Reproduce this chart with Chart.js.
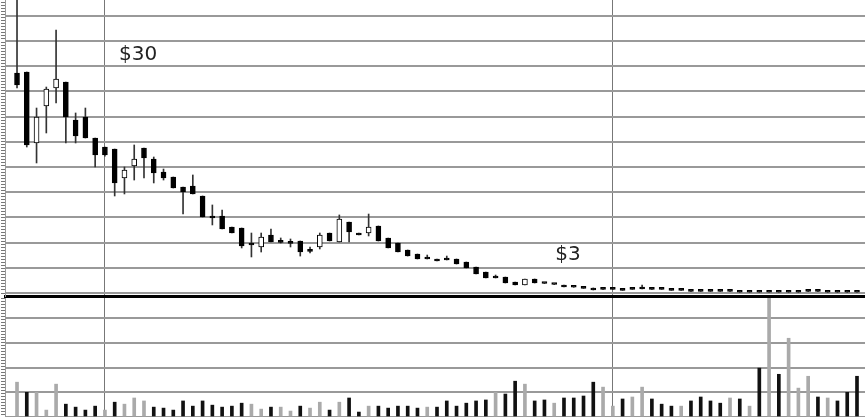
<!DOCTYPE html>
<html>
<head>
<meta charset="utf-8">
<script src="https://cdn.jsdelivr.net/npm/chart.js@4.4.1/dist/chart.umd.min.js"></script>
<style>
    html, body { margin: 0; padding: 0; background: #fff; overflow: hidden; }
    #price { position: absolute; left: 0; top: 0; width: 865px; height: 298px; }
    #volume { position: absolute; left: 0; top: 298px; width: 865px; height: 119px; }
</style>
</head>
<body>
<div id="price"><canvas id="priceChart"></canvas></div>
<div id="volume"><canvas id="volumeChart"></canvas></div>
<script>
// daily OHLC (dollars), one entry per session
const opens = [26.19, 26.31, 17.86, 22.26, 24.40, 25.12, 20.60, 20.95, 18.45, 17.38,
    17.14, 13.69, 15.12, 17.26, 15.95, 14.40, 13.81, 12.62, 12.74, 11.55,
    9.17, 9.17, 7.86, 7.74, 5.83, 5.48, 6.90, 6.10, 5.98, 6.19,
    5.02, 5.48, 7.14, 6.07, 8.45, 7.14, 7.14, 7.98, 6.55, 5.95,
    5.12, 4.64, 4.17, 4.05, 4.05, 4.05, 3.69, 3.10, 2.50, 2.02,
    1.90, 1.31, 0.95, 1.67, 1.19, 1.07, 0.95, 0.74, 0.62, 0.60,
    0.50, 0.50, 0.38, 0.50, 0.71, 0.50, 0.50, 0.38, 0.38, 0.26,
    0.26, 0.26, 0.26, 0.26, 0.15, 0.15, 0.15, 0.15, 0.15, 0.15,
    0.15, 0.26, 0.26, 0.15, 0.15, 0.15, 0.15];
const highs = [36.00, 26.31, 22.02, 24.52, 31.31, 25.12, 21.43, 22.02, 18.45, 17.38,
    17.14, 15.00, 17.62, 17.26, 16.19, 14.76, 13.81, 12.62, 14.05, 11.55,
    10.48, 9.88, 7.86, 7.74, 7.14, 7.14, 7.62, 6.55, 6.43, 6.19,
    5.48, 7.14, 7.14, 9.29, 8.45, 7.14, 9.40, 7.98, 6.55, 5.95,
    5.12, 4.64, 4.52, 4.05, 4.40, 4.05, 3.69, 3.10, 2.50, 2.14,
    1.90, 1.31, 1.67, 1.67, 1.19, 1.07, 0.95, 0.74, 0.62, 0.60,
    0.50, 0.50, 0.38, 0.50, 0.95, 0.50, 0.50, 0.38, 0.38, 0.26,
    0.26, 0.26, 0.26, 0.26, 0.15, 0.15, 0.15, 0.15, 0.15, 0.15,
    0.15, 0.26, 0.26, 0.15, 0.15, 0.15, 0.15];
const lows = [24.40, 17.38, 15.48, 19.05, 22.62, 17.86, 17.86, 18.45, 15.00, 16.30,
    11.55, 11.79, 13.45, 13.69, 13.10, 13.45, 12.50, 9.40, 11.79, 9.05,
    8.10, 7.62, 7.14, 5.36, 4.29, 4.88, 6.07, 5.95, 5.48, 4.40,
    4.76, 5.24, 6.19, 6.07, 6.07, 6.90, 6.79, 6.19, 5.36, 4.88,
    4.40, 4.05, 4.05, 3.81, 3.93, 3.45, 2.98, 2.26, 1.79, 1.79,
    1.19, 0.95, 0.95, 1.19, 1.13, 1.01, 0.71, 0.68, 0.56, 0.36,
    0.44, 0.44, 0.32, 0.44, 0.48, 0.44, 0.44, 0.32, 0.32, 0.20,
    0.20, 0.20, 0.20, 0.20, 0.09, 0.09, 0.09, 0.09, 0.09, 0.09,
    0.09, 0.20, 0.20, 0.09, 0.09, 0.09, 0.09];
const closes = [24.76, 17.62, 20.95, 24.29, 25.48, 20.95, 18.69, 18.45, 16.43, 16.43,
    13.10, 14.64, 15.95, 16.07, 14.29, 13.69, 12.50, 12.02, 11.79, 9.05,
    8.93, 7.62, 7.14, 5.60, 5.71, 6.67, 6.07, 6.02, 5.90, 4.88,
    4.95, 6.90, 6.19, 8.81, 7.26, 6.90, 7.86, 6.19, 5.36, 4.88,
    4.40, 4.05, 4.05, 3.81, 3.93, 3.45, 2.98, 2.26, 1.79, 1.79,
    1.19, 0.95, 1.67, 1.19, 1.13, 1.01, 0.71, 0.68, 0.56, 0.36,
    0.44, 0.44, 0.32, 0.44, 0.48, 0.44, 0.44, 0.32, 0.32, 0.20,
    0.20, 0.20, 0.20, 0.20, 0.09, 0.09, 0.09, 0.09, 0.09, 0.09,
    0.09, 0.20, 0.20, 0.09, 0.09, 0.09, 0.09];

// volume (millions of shares) and whether the bar is an up day (grey)
const volumes = [1.41, 1.00, 1.00, 0.28, 1.33, 0.52, 0.40, 0.28, 0.44, 0.28,
    0.60, 0.52, 0.77, 0.65, 0.40, 0.36, 0.28, 0.65, 0.44, 0.65,
    0.48, 0.40, 0.44, 0.56, 0.52, 0.32, 0.40, 0.40, 0.24, 0.44,
    0.36, 0.60, 0.28, 0.60, 0.77, 0.20, 0.44, 0.44, 0.36, 0.44,
    0.44, 0.36, 0.40, 0.40, 0.65, 0.44, 0.56, 0.65, 0.69, 1.00,
    0.93, 1.45, 1.33, 0.65, 0.69, 0.56, 0.77, 0.77, 0.85, 1.41,
    1.21, 0.44, 0.73, 0.81, 1.21, 0.73, 0.52, 0.44, 0.44, 0.65,
    0.81, 0.65, 0.56, 0.77, 0.73, 0.44, 1.98, 5.60, 1.73, 3.19,
    1.17, 1.65, 0.81, 0.77, 0.65, 1.00, 1.65];
const volumeUp = [1, 0, 1, 1, 1, 0, 0, 0, 0, 1,
    0, 1, 1, 1, 0, 0, 0, 0, 0, 0,
    0, 0, 0, 0, 1, 1, 0, 1, 1, 0,
    1, 1, 0, 1, 0, 0, 1, 0, 0, 0,
    0, 0, 1, 0, 0, 0, 0, 0, 0, 1,
    0, 0, 1, 0, 0, 1, 0, 0, 0, 0,
    1, 1, 0, 1, 1, 0, 0, 0, 1, 0,
    0, 0, 0, 1, 0, 1, 0, 1, 0, 1,
    1, 1, 0, 1, 0, 0, 0];

// month separators (session index) and price notes
const dividers = [9, 61];
const noteTexts = ['$30', '$3'];
const noteIndex = [10.45, 55.1];
const notePrice = [28.3, 4.5];

const idx = opens.map((_, i) => i);

function xAxis(withBorder) {
    return {
        type: 'linear',
        offset: false,
        min: -1.23,
        max: 86.82,
        afterBuildTicks: function(scale) {
            scale.ticks = dividers.map(v => ({ value: v }));
        },
        ticks: { display: false },
        grid: { offset: false, color: '#777', lineWidth: 1, drawTicks: false },
        border: withBorder ? { display: true, width: 3, color: '#000' } : { display: false }
    };
}

// little tick marks down the left edge
function edgeAxis(min, max, step) {
    return {
        position: 'left',
        min: min,
        max: max,
        ticks: { display: false, stepSize: step, maxTicksLimit: 400, includeBounds: false },
        grid: { drawOnChartArea: false, drawTicks: true, tickLength: 4, color: '#777', lineWidth: 1 },
        border: { display: true, color: '#999', width: 1 }
    };
}

const notesPlugin = {
    id: 'notes',
    afterDatasetsDraw(chart) {
        const ctx = chart.ctx;
        const xs = chart.scales.x, ys = chart.scales.y;
        ctx.save();
        ctx.font = '20px "DejaVu Sans"';
        ctx.fillStyle = '#222';
        ctx.textAlign = 'left';
        ctx.textBaseline = 'middle';
        noteTexts.forEach((t, k) => {
            ctx.fillText(t, xs.getPixelForValue(noteIndex[k]), ys.getPixelForValue(notePrice[k]));
        });
        ctx.restore();
    }
};

new Chart(document.getElementById('priceChart'), {
    type: 'bar',
    data: {
        datasets: [
            {
                label: 'range',
                data: idx.map(i => ({ x: i, y: [lows[i], highs[i]] })),
                backgroundColor: '#333',
                barThickness: 1,
                grouped: false,
                order: 2
            },
            {
                label: 'body',
                data: idx.map(i => ({ x: i, y: [opens[i], closes[i]] })),
                backgroundColor: idx.map(i => closes[i] > opens[i] ? '#fff' : '#000'),
                borderColor: '#000',
                borderWidth: 1,
                borderSkipped: false,
                barThickness: 5,
                minBarLength: 2,
                grouped: false,
                order: 1
            }
        ]
    },
    options: {
        responsive: true,
        maintainAspectRatio: false,
        animation: false,
        layout: { padding: { left: 1, bottom: 2, top: 0, right: 0 } },
        plugins: { legend: { display: false }, tooltip: { enabled: false } },
        scales: {
            x: xAxis(true),
            y: {
                min: -0.357,
                max: 34.88,
                ticks: { display: false, stepSize: 3, includeBounds: false },
                grid: { color: '#999', lineWidth: 2, drawTicks: false },
                border: { display: false }
            },
            edge: edgeAxis(-0.357, 34.88, 0.36)
        }
    },
    plugins: [notesPlugin]
});

new Chart(document.getElementById('volumeChart'), {
    type: 'bar',
    data: {
        datasets: [{
            label: 'volume',
            data: idx.map(i => ({ x: i, y: volumes[i] })),
            backgroundColor: idx.map(i => volumeUp[i] ? '#aaa' : '#111'),
            barThickness: 3,
            grouped: false
        }]
    },
    options: {
        responsive: true,
        maintainAspectRatio: false,
        animation: false,
        layout: { padding: { left: 1, bottom: 0, top: 0, right: 0 } },
        plugins: { legend: { display: false }, tooltip: { enabled: false } },
        scales: {
            x: xAxis(false),
            y: {
                min: 0,
                max: 4.82,
                ticks: { display: false, stepSize: 1, includeBounds: false },
                grid: { color: '#999', lineWidth: 2, drawTicks: false },
                border: { display: false }
            },
            edge: edgeAxis(0, 4.82, 0.12)
        }
    }
});
</script>
</body>
</html>
